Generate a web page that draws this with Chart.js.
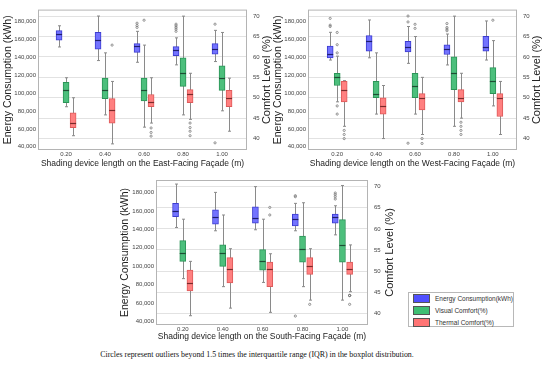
<!DOCTYPE html>
<html><head><meta charset="utf-8">
<script src="https://cdn.jsdelivr.net/npm/chart.js@4/dist/chart.umd.min.js"></script>
<style>
body{margin:0;background:#fff;width:550px;height:365px;position:relative;overflow:hidden;font-family:'Liberation Sans',Arial,sans-serif}
canvas{position:absolute}
#legend{position:absolute;left:408px;top:292px;width:104px;height:33px;border:1px solid #b8b8b8;background:#fff}
.li{position:absolute;left:4px;height:9px;font-size:6.5px;color:#333;line-height:9px;white-space:nowrap}
.sw{display:inline-block;width:15px;height:7px;border:1px solid #555;vertical-align:top;margin-right:5px}
#caption{position:absolute;left:0;top:350px;width:514px;text-align:center;font-family:'Liberation Serif','Times New Roman',serif;font-size:7.9px;color:#111;line-height:10px;white-space:nowrap}
</style></head><body>
<canvas id="east" width="275" height="175" style="left:0;top:0"></canvas>
<canvas id="west" width="280" height="175" style="left:270px;top:0"></canvas>
<canvas id="south" width="281" height="180" style="left:115px;top:170px"></canvas>
<div id="legend">
  <div class="li" style="top:1px"><span class="sw" style="background:#4f4fff"></span>Energy Consumption(kWh)</div>
  <div class="li" style="top:13px"><span class="sw" style="background:#3fbf73"></span>Visual Comfort(%)</div>
  <div class="li" style="top:25px"><span class="sw" style="background:#ff7474"></span>Thermal Comfort(%)</div>
</div>
<div id="caption">Circles represent outliers beyond 1.5 times the interquartile range (IQR) in the boxplot distribution.</div>
<script>
const categories = ['0.20','0.40','0.60','0.80','1.00'];
const energyTicks = [40000,60000,80000,100000,120000,140000,160000,180000];
const comfortTicks = [40,45,50,55,60,65,70];

// each entry: [lower whisker, Q1, median, Q3, upper whisker]
const eastEnergy = [[151600,159300,166200,169800,175300],[136400,149100,158900,168000,186200],[134500,145500,152700,155300,169100],[131600,141800,148000,152000,161800],[135300,143600,149800,155300,170200]];
const eastEnergyOut = [[],[],[173500,175600,178200],[169100,171600,173500,175300,177100],[177100,44400]];
const eastVisual = [[47.8,48.8,51.8,53.8,54.9],[45.8,49.8,51.8,54.8,61.0],[42.8,49.2,51.8,54.8,62.9],[45.8,52.8,56.0,59.8,70.0],[46.8,51.8,54.8,57.8,66.0]];
const eastVisualOut = [[],[],[69.0],[],[]];
const eastThermal = [[40.7,42.7,43.9,46.3,50.0],[38.7,43.8,46.9,49.8,54.0],[43.8,47.8,49.0,50.8,54.9],[44.7,48.8,50.8,52.0,56.0],[41.8,47.8,49.9,51.8,54.8]];
const eastThermalOut = [[],[62.9],[42.6,41.5,40.6],[43.8,42.7,41.8,40.7],[]];

const westEnergy = [[137000,139500,144300,152700,168000],[139500,146800,157800,164300,181800],[133300,146100,151600,157800,174500],[131500,143200,149000,154100,166100],[137000,146800,151600,163600,180700]];
const westEnergyOut = [[174500,176000,183600],[],[179600,186200,44000],[169800,171600,173400,177800],[]];
const westVisual = [[49.0,53.0,55.0,56.0,60.2],[46.0,50.0,51.0,54.0,61.0],[46.0,50.0,53.0,56.0,65.0],[43.0,52.0,56.0,60.0,70.0],[48.0,51.0,54.0,57.4,64.0]];
const westVisualOut = [[66.0,63.0,61.0,48.0,46.0],[],[68.0,67.0],[],[69.0]];
const westThermal = [[43.0,49.0,52.0,54.0,54.2],[40.0,46.0,48.0,50.0,53.0],[41.0,47.0,50.0,51.0,55.0],[45.0,49.0,50.0,52.0,56.0],[41.0,45.4,50.0,51.0,54.0]];
const westThermalOut = [[42.0,41.0,40.0],[],[40.0,38.8],[44.0,43.0,42.0,41.0],[]];

const southEnergy = [[142000,153600,160100,168100,189000],[138400,145600,153600,161200,180000],[139500,146700,151800,164400,186200],[138400,143800,151000,156500,168100],[134000,146700,152900,156500,165500]];
const southEnergyOut = [[],[],[],[175300,176400,46100],[172800,175300,177500,179300]];
const southVisual = [[48.2,52.3,54.3,57.2,62.3],[46.3,51.1,54.3,56.2,63.3],[47.3,50.2,52.3,55.1,62.3],[46.3,52.1,55.3,58.3,66.2],[43.1,52.1,56.2,62.2,70.3]];
const southVisualOut = [[],[],[],[],[]];
const southThermal = [[39.4,45.3,47.2,50.2,52.3],[41.2,47.2,50.4,53.2,55.3],[40.2,46.3,50.4,52.1,54.1],[43.1,49.2,51.2,53.2,55.3],[45.1,49.2,50.4,52.1,56.2]];
const southThermalOut = [[],[],[65.1,63.3],[42.1],[44.2,44.2,44.2,42.1]];

const FONT = "'Liberation Sans', Arial, sans-serif";

function boxDataset(label, stats, outs, off, axis, fill, border, median){
  return {label, type:'bar', yAxisID:axis,
    data: stats.map((s,i)=>({x:i+off, y:[s[1], s[3]]})),
    stats, outs, off, medianColor: median,
    backgroundColor: fill, borderColor: border, borderWidth: 1, borderSkipped: false,
    barThickness: 6, grouped: false};
}

const boxPlugin = {
  id: 'boxExtras',
  beforeDatasetsDraw(chart, args, opts){
    const ctx = chart.ctx, a = chart.chartArea;
    ctx.save();
    ctx.strokeStyle = '#b4b4b4'; ctx.lineWidth = 1;
    ctx.strokeRect(a.left+0.5, a.top+0.5, a.right-a.left-1, a.bottom-a.top-1);
    const xs = chart.scales.x;
    chart.data.datasets.forEach(ds=>{
      const ys = chart.scales[ds.yAxisID];
      ds.stats.forEach((s,i)=>{
        const x = Math.round(xs.getPixelForValue(i+ds.off))+0.5;
        const yLo = ys.getPixelForValue(s[0]), yHi = ys.getPixelForValue(s[4]);
        ctx.strokeStyle = '#8a8a8a'; ctx.lineWidth = 1;
        ctx.beginPath(); ctx.moveTo(x, yLo); ctx.lineTo(x, yHi);
        ctx.moveTo(x-1.5, yLo); ctx.lineTo(x+1.5, yLo);
        ctx.moveTo(x-1.5, yHi); ctx.lineTo(x+1.5, yHi);
        ctx.stroke();
      });
    });
    ctx.restore();
  },
  afterDatasetsDraw(chart, args, opts){
    const ctx = chart.ctx, xs = chart.scales.x;
    ctx.save();
    chart.data.datasets.forEach(ds=>{
      const ys = chart.scales[ds.yAxisID];
      ds.stats.forEach((s,i)=>{
        const x = xs.getPixelForValue(i+ds.off);
        const ym = Math.round(ys.getPixelForValue(s[2]))+0.5;
        ctx.strokeStyle = ds.medianColor; ctx.lineWidth = 1.2;
        ctx.beginPath(); ctx.moveTo(x-3, ym); ctx.lineTo(x+3, ym); ctx.stroke();
        ds.outs[i].forEach(v=>{
          const yo = ys.getPixelForValue(v);
          ctx.strokeStyle = '#7a7a7a'; ctx.lineWidth = 0.8;
          ctx.beginPath(); ctx.arc(x, yo, 1.1, 0, Math.PI*2); ctx.stroke();
        });
      });
    });
    // right axis title (reads bottom-to-top)
    const a = chart.chartArea;
    ctx.translate(opts.rightTitleX, (a.top+a.bottom)/2);
    ctx.rotate(-Math.PI/2);
    ctx.font = "11px " + FONT; ctx.fillStyle = '#222';
    ctx.textAlign = 'center'; ctx.textBaseline = 'middle';
    ctx.fillText('Comfort Level (%)', 0, 0);
    ctx.restore();
  }
};

function makeChart(id, xTitle, E, EO, V, VO, T, TO, L){
  const tickFont = {family: FONT, size: 6};
  return new Chart(document.getElementById(id), {
    type: 'bar',
    data: { datasets: [
      boxDataset('Energy Consumption(kWh)', E, EO, -0.18, 'yE', '#7373ff', '#3c3cd0', '#1e1e6e'),
      boxDataset('Visual Comfort(%)', V, VO, 0, 'yC', '#4cbf7c', '#2b9457', '#1d4d33'),
      boxDataset('Thermal Comfort(%)', T, TO, 0.18, 'yC', '#ff8080', '#de5a5a', '#7a2a2a')
    ]},
    options: {
      responsive: false, animation: false,
      layout: {padding: {top: L.top, left: 0, right: 0, bottom: 0}},
      plugins: {legend: {display: false}, tooltip: {enabled: false}, boxExtras: {rightTitleX: L.rtx}},
      scales: {
        x: {type: 'linear', min: L.xmin, max: L.xmax, offset: false,
          afterBuildTicks: s => { s.ticks = categories.map((c,i)=>({value:i})); },
          ticks: {callback: v => categories[v], font: tickFont, color: '#444', padding: 1, maxRotation: 0, autoSkip: false},
          grid: {display: false, drawTicks: false}, border: {display: false},
          title: {display: true, text: xTitle, font: {family: FONT, size: 8.5}, color: '#222', padding: {top: 0, bottom: L.xtp}},
          afterFit: s => { s.height = L.xh; }
        },
        yE: {type: 'linear', position: 'left', min: 36400, max: 193400,
          afterBuildTicks: s => { s.ticks = energyTicks.map(v=>({value:v})); },
          ticks: {callback: v => v.toLocaleString('en-US'), font: tickFont, color: '#444', padding: 2},
          grid: {display: false, drawTicks: false}, border: {display: false},
          title: {display: true, text: 'Energy Consumption (kWh)', font: {family: FONT, size: 10.5}, color: '#222', padding: {top: L.ltp, bottom: 0}},
          afterFit: s => { s.width = L.lw; }
        },
        yC: {type: 'linear', position: 'right', min: 37.2, max: 71.6,
          afterBuildTicks: s => { s.ticks = comfortTicks.map(v=>({value:v})); },
          ticks: {font: tickFont, color: '#444', padding: 6},
          grid: {display: true, color: '#e2e2e2', drawTicks: false}, border: {display: false},
          afterFit: s => { s.width = L.rw; }
        }
      }
    },
    plugins: [boxPlugin]
  });
}

makeChart('east', 'Shading device length on the East-Facing Façade (m)', eastEnergy, eastEnergyOut, eastVisual, eastVisualOut, eastThermal, eastThermalOut,
  {top: 6, xh: 25, xtp: 6.6, lw: 38, rw: 28, ltp: 1.7, rtx: 267, xmin: -0.72, xmax: 4.64});
makeChart('west', 'Shading device length on the West-Facing Façade (m)', westEnergy, westEnergyOut, westVisual, westVisualOut, westThermal, westThermalOut,
  {top: 6, xh: 25, xtp: 6.6, lw: 38, rw: 33, ltp: 1.7, rtx: 267, xmin: -0.75, xmax: 4.62});
makeChart('south', 'Shading device length on the South-Facing Façade (m)', southEnergy, southEnergyOut, southVisual, southVisualOut, southThermal, southThermalOut,
  {top: 10, xh: 25, xtp: 7.9, lw: 41, rw: 28, ltp: 3.7, rtx: 275, xmin: -0.67, xmax: 4.64});
</script>
</body></html>
